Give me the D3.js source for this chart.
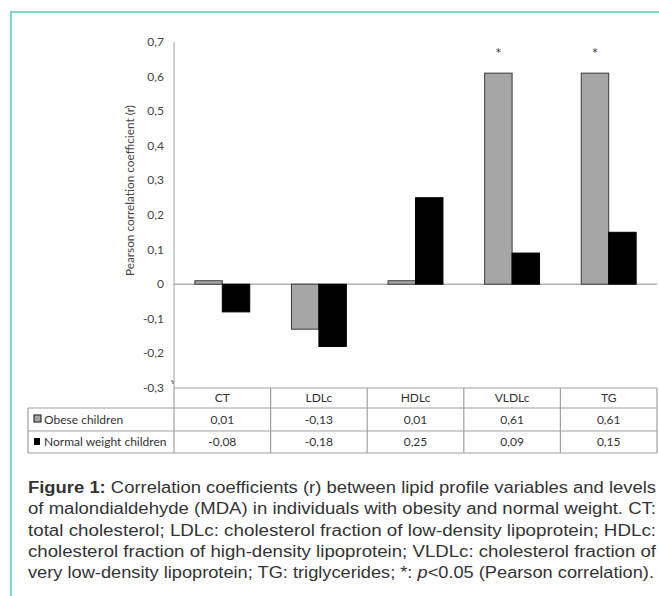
<!DOCTYPE html>
<html>
<head>
<meta charset="utf-8">
<script src="https://cdn.jsdelivr.net/npm/d3@7"></script>
<style>
  body { margin: 0; background: #fff; }
  svg { display: block; }
</style>
</head>
<body>
<svg id="chart" width="659" height="596"></svg>
<script>
const categories = ['CT', 'LDLc', 'HDLc', 'VLDLc', 'TG']
const seriesNames = ['Obese children', 'Normal weight children']
const obeseValues = [0.01, -0.13, 0.01, 0.61, 0.61]
const normalValues = [-0.08, -0.18, 0.25, 0.09, 0.15]
const significant = ['VLDLc', 'TG']
const yTicks = [-0.3, -0.2, -0.1, 0, 0.1, 0.2, 0.3, 0.4, 0.5, 0.6, 0.7]
const captionLines = [
  'Correlation coefficients (r) between lipid profile variables and levels',
  'of malondialdehyde (MDA) in individuals with obesity and normal weight. CT:',
  'total cholesterol; LDLc: cholesterol fraction of low-density lipoprotein; HDLc:',
  'cholesterol fraction of high-density lipoprotein; VLDLc: cholesterol fraction of',
  'very low-density lipoprotein; TG: triglycerides; *: '
]

const svg = d3.select('#chart')
const fmt = v => (v === 0 ? '0' : d3.format('.1f')(v)).replace('.', ',').replace('−', '-')
const fmt2 = v => d3.format('.2f')(v).replace('.', ',').replace('−', '-')

// teal frame
svg.append('line').attr('x1', 11).attr('x2', 659).attr('y1', 12).attr('y2', 12)
  .attr('stroke', '#7fd9c9').attr('stroke-width', 2)
svg.append('line').attr('x1', 11).attr('x2', 11).attr('y1', 11).attr('y2', 596)
  .attr('stroke', '#7fd9c9').attr('stroke-width', 2)

const x = d3.scaleBand().domain(categories).range([174, 657])
const xs = d3.scaleBand().domain(seriesNames).range([0, x.bandwidth()]).paddingOuter(0.76)
const y = d3.scaleLinear().domain([-0.3, 0.7]).range([388, 42])

const font = 'Lato, "Open Sans", sans-serif'

// y axis
svg.append('line').attr('x1', 174).attr('x2', 174).attr('y1', y(0.7)).attr('y2', y(-0.3))
  .attr('stroke', '#a0a0a0')
svg.append('path').attr('d', `M171,${y(-0.3) - 7}h2v3`).attr('fill', 'none')
  .attr('stroke', '#555').attr('stroke-width', 1)
svg.selectAll('.ytick').data(yTicks).enter().append('text')
  .attr('x', 164).attr('y', d => y(d) + 4)
  .attr('text-anchor', 'end').attr('font-family', font).attr('font-size', 12)
  .attr('fill', '#444').text(fmt)
svg.append('text')
  .attr('transform', `translate(134,${(y(0) + 97) / 2}) rotate(-90)`)
  .attr('text-anchor', 'middle').attr('font-family', font).attr('font-size', 11.8)
  .attr('fill', '#444').text('Pearson correlation coefficient (r)')

// zero line
svg.append('line').attr('x1', 174).attr('x2', 657).attr('y1', y(0)).attr('y2', y(0))
  .attr('stroke', '#b0b0b0').attr('stroke-width', 1.5)

// bars
const rows = categories.map((c, i) => ({ c, vals: [obeseValues[i], normalValues[i]] }))
const groups = svg.selectAll('.grp').data(rows).enter().append('g')
  .attr('transform', d => `translate(${x(d.c)},0)`)
groups.selectAll('rect').data(d => d.vals.map((v, j) => ({ v, s: seriesNames[j] }))).enter()
  .append('rect')
  .attr('x', d => xs(d.s))
  .attr('y', d => y(Math.max(0, d.v)))
  .attr('width', xs.bandwidth())
  .attr('height', d => Math.abs(y(d.v) - y(0)))
  .attr('fill', d => d.s === seriesNames[0] ? '#a6a6a6' : '#000')
  .attr('stroke', d => d.s === seriesNames[0] ? '#3a3a3a' : '#000')
  .attr('stroke-width', 1)

// significance marks
svg.selectAll('.star').data(significant).enter().append('text')
  .attr('x', d => x(d) + xs(seriesNames[0]) + xs.bandwidth() / 2)
  .attr('y', 59)
  .attr('text-anchor', 'middle').attr('font-family', font).attr('font-size', 15)
  .attr('fill', '#444').text('*')

// data table
const tTop = y(-0.3), r1 = 408, r2 = 431, r3 = 453
const grid = svg.append('g').attr('stroke', '#a0a0a0').attr('stroke-width', 1.2)
grid.append('line').attr('x1', 174).attr('x2', 657).attr('y1', tTop).attr('y2', tTop)
grid.append('line').attr('x1', 28).attr('x2', 657).attr('y1', r1).attr('y2', r1)
grid.append('line').attr('x1', 28).attr('x2', 657).attr('y1', r2).attr('y2', r2)
grid.append('line').attr('x1', 28).attr('x2', 657).attr('y1', r3).attr('y2', r3)
grid.append('line').attr('x1', 28).attr('x2', 28).attr('y1', r1).attr('y2', r3)
grid.selectAll('.vl').data(categories.concat(['end'])).enter().append('line')
  .attr('x1', (d, i) => i < categories.length ? x(d) : 657)
  .attr('x2', (d, i) => i < categories.length ? x(d) : 657)
  .attr('y1', tTop).attr('y2', r3)

const cellText = (sel) => sel.attr('text-anchor', 'middle').attr('font-family', font)
  .attr('font-size', 12).attr('fill', '#333')
cellText(svg.selectAll('.hdr').data(categories).enter().append('text')
  .attr('x', d => x(d) + x.bandwidth() / 2).attr('y', (tTop + r1) / 2 + 4).text(d => d))
cellText(svg.selectAll('.ob').data(rows).enter().append('text')
  .attr('x', d => x(d.c) + x.bandwidth() / 2).attr('y', (r1 + r2) / 2 + 4).text(d => fmt2(d.vals[0])))
cellText(svg.selectAll('.nw').data(rows).enter().append('text')
  .attr('x', d => x(d.c) + x.bandwidth() / 2).attr('y', (r2 + r3) / 2 + 4).text(d => fmt2(d.vals[1])))

// legend keys
svg.append('rect').attr('x', 34).attr('y', 415).attr('width', 7).attr('height', 7)
  .attr('fill', '#a6a6a6').attr('stroke', '#333').attr('stroke-width', 1.2)
svg.append('rect').attr('x', 34).attr('y', 438).attr('width', 6).attr('height', 7)
  .attr('fill', '#000')
svg.selectAll('.lg').data(seriesNames).enter().append('text')
  .attr('x', 44).attr('y', (d, i) => i === 0 ? (r1 + r2) / 2 + 4 : (r2 + r3) / 2 + 4)
  .attr('font-family', font).attr('font-size', 12).attr('fill', '#333').text(d => d)

// caption
const cap = svg.append('g').attr('font-family', '"Liberation Sans", Arial, sans-serif')
  .attr('font-size', 16).attr('fill', '#333')
captionLines.forEach((line, i) => {
  const t = cap.append('text').attr('x', 28).attr('y', 493 + i * 21.3)
  if (i === 0) {
    t.append('tspan').attr('font-weight', 'bold').text('Figure 1: ')
    t.append('tspan').text(line)
    t.attr('textLength', 628).attr('lengthAdjust', 'spacingAndGlyphs')
  } else if (i === captionLines.length - 1) {
    t.append('tspan').text(line)
    t.append('tspan').attr('font-style', 'italic').text('p')
    t.append('tspan').text('<0.05 (Pearson correlation).')
    t.attr('textLength', 626).attr('lengthAdjust', 'spacingAndGlyphs')
  } else {
    t.text(line).attr('textLength', 628).attr('lengthAdjust', 'spacingAndGlyphs')
  }
})
</script>
</body>
</html>
